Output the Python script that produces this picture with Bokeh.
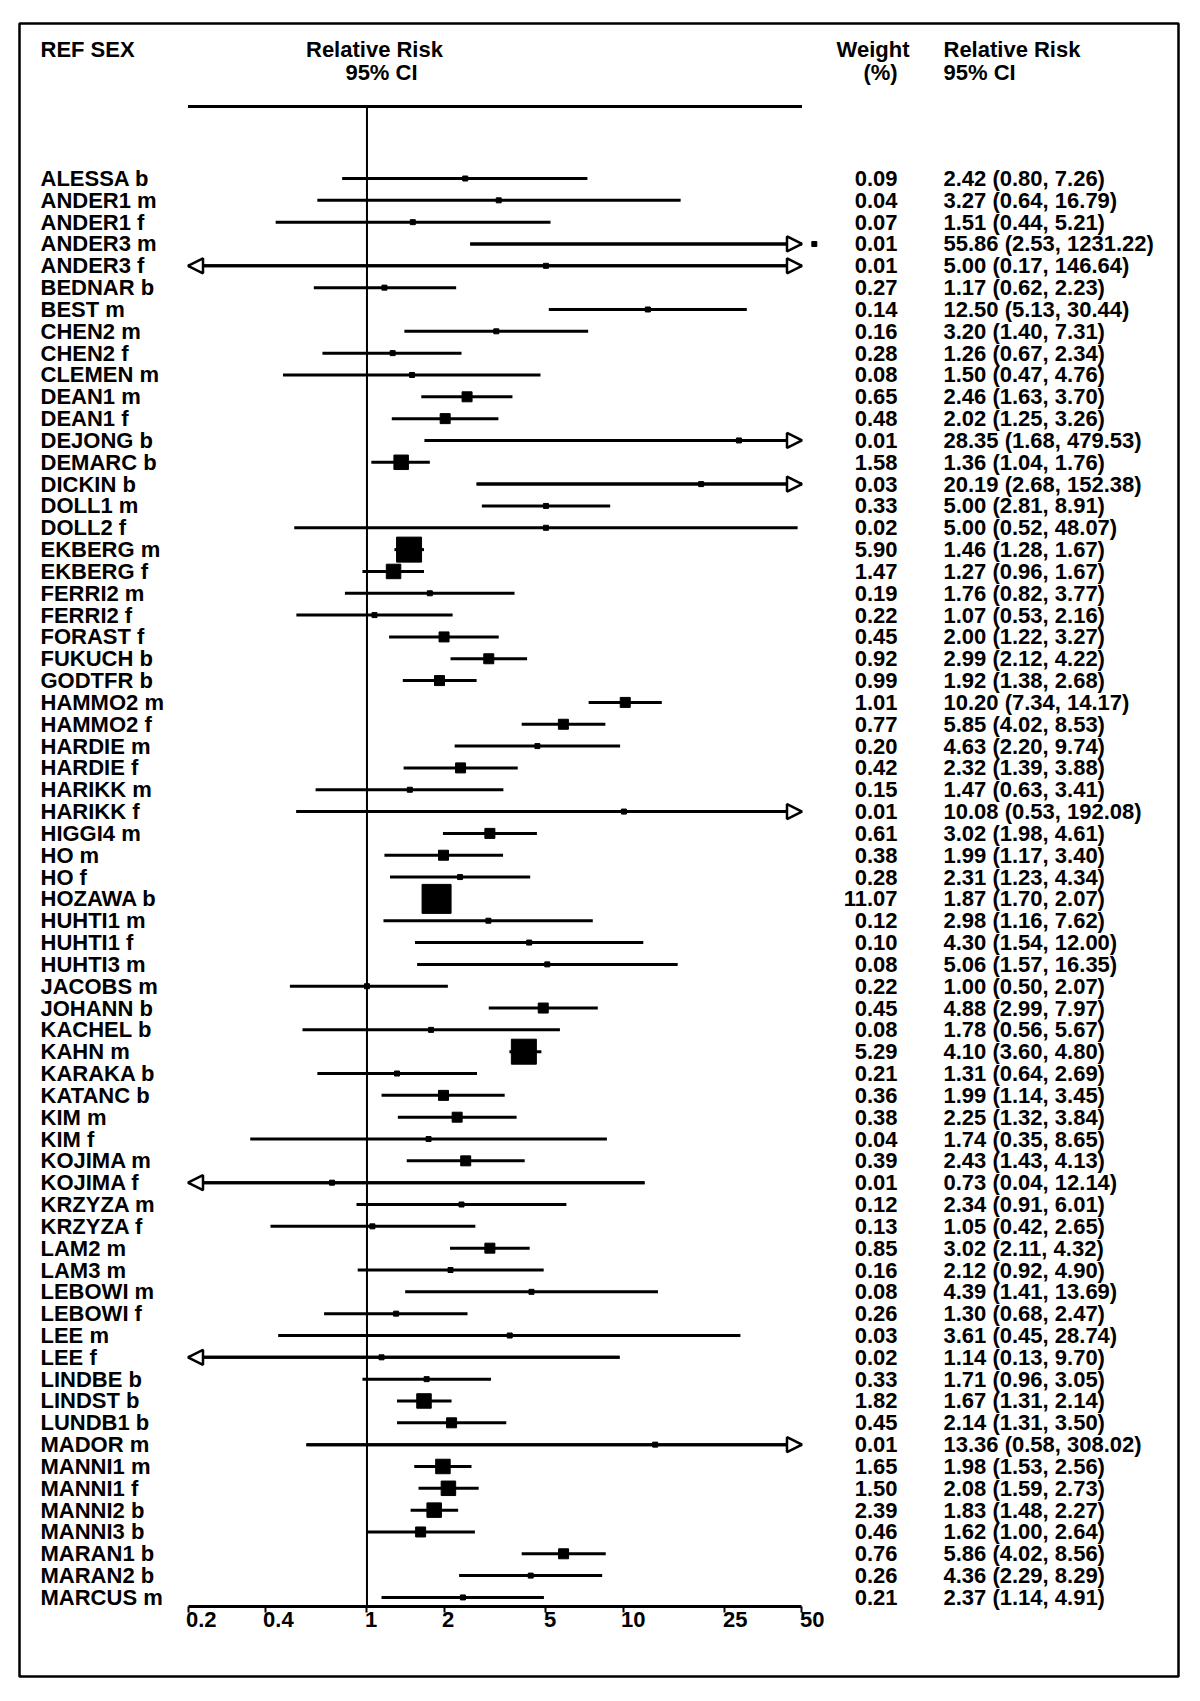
import math
from bokeh.plotting import figure
from bokeh.models import Range1d, FixedTicker, Arrow, NormalHead, ColumnDataSource
from bokeh.core.properties import value
from bokeh.embed import file_html
from bokeh.resources import INLINE

# ---------------- data ----------------
STUDIES = ["ALESSA b", "ANDER1 m", "ANDER1 f", "ANDER3 m", "ANDER3 f", "BEDNAR b", "BEST m",
           "CHEN2 m", "CHEN2 f", "CLEMEN m", "DEAN1 m", "DEAN1 f", "DEJONG b", "DEMARC b",
           "DICKIN b", "DOLL1 m", "DOLL2 f", "EKBERG m", "EKBERG f", "FERRI2 m", "FERRI2 f",
           "FORAST f", "FUKUCH b", "GODTFR b", "HAMMO2 m", "HAMMO2 f", "HARDIE m", "HARDIE f",
           "HARIKK m", "HARIKK f", "HIGGI4 m", "HO m", "HO f", "HOZAWA b", "HUHTI1 m",
           "HUHTI1 f", "HUHTI3 m", "JACOBS m", "JOHANN b", "KACHEL b", "KAHN m", "KARAKA b",
           "KATANC b", "KIM m", "KIM f", "KOJIMA m", "KOJIMA f", "KRZYZA m", "KRZYZA f",
           "LAM2 m", "LAM3 m", "LEBOWI m", "LEBOWI f", "LEE m", "LEE f", "LINDBE b",
           "LINDST b", "LUNDB1 b", "MADOR m", "MANNI1 m", "MANNI1 f", "MANNI2 b", "MANNI3 b",
           "MARAN1 b", "MARAN2 b", "MARCUS m"]
WEIGHTS = [0.09, 0.04, 0.07, 0.01, 0.01, 0.27, 0.14, 0.16, 0.28, 0.08, 0.65, 0.48, 0.01, 1.58,
           0.03, 0.33, 0.02, 5.90, 1.47, 0.19, 0.22, 0.45, 0.92, 0.99, 1.01, 0.77, 0.20, 0.42,
           0.15, 0.01, 0.61, 0.38, 0.28, 11.07, 0.12, 0.10, 0.08, 0.22, 0.45, 0.08, 5.29, 0.21,
           0.36, 0.38, 0.04, 0.39, 0.01, 0.12, 0.13, 0.85, 0.16, 0.08, 0.26, 0.03, 0.02, 0.33,
           1.82, 0.45, 0.01, 1.65, 1.50, 2.39, 0.46, 0.76, 0.26, 0.21]
RR = [2.42, 3.27, 1.51, 55.86, 5.00, 1.17, 12.50, 3.20, 1.26, 1.50, 2.46, 2.02, 28.35, 1.36,
      20.19, 5.00, 5.00, 1.46, 1.27, 1.76, 1.07, 2.00, 2.99, 1.92, 10.20, 5.85, 4.63, 2.32,
      1.47, 10.08, 3.02, 1.99, 2.31, 1.87, 2.98, 4.30, 5.06, 1.00, 4.88, 1.78, 4.10, 1.31,
      1.99, 2.25, 1.74, 2.43, 0.73, 2.34, 1.05, 3.02, 2.12, 4.39, 1.30, 3.61, 1.14, 1.71,
      1.67, 2.14, 13.36, 1.98, 2.08, 1.83, 1.62, 5.86, 4.36, 2.37]
LOWER = [0.80, 0.64, 0.44, 2.53, 0.17, 0.62, 5.13, 1.40, 0.67, 0.47, 1.63, 1.25, 1.68, 1.04,
         2.68, 2.81, 0.52, 1.28, 0.96, 0.82, 0.53, 1.22, 2.12, 1.38, 7.34, 4.02, 2.20, 1.39,
         0.63, 0.53, 1.98, 1.17, 1.23, 1.70, 1.16, 1.54, 1.57, 0.50, 2.99, 0.56, 3.60, 0.64,
         1.14, 1.32, 0.35, 1.43, 0.04, 0.91, 0.42, 2.11, 0.92, 1.41, 0.68, 0.45, 0.13, 0.96,
         1.31, 1.31, 0.58, 1.53, 1.59, 1.48, 1.00, 4.02, 2.29, 1.14]
UPPER = [7.26, 16.79, 5.21, 1231.22, 146.64, 2.23, 30.44, 7.31, 2.34, 4.76, 3.70, 3.26, 479.53,
         1.76, 152.38, 8.91, 48.07, 1.67, 1.67, 3.77, 2.16, 3.27, 4.22, 2.68, 14.17, 8.53, 9.74,
         3.88, 3.41, 192.08, 4.61, 3.40, 4.34, 2.07, 7.62, 12.00, 16.35, 2.07, 7.97, 5.67, 4.80,
         2.69, 3.45, 3.84, 8.65, 4.13, 12.14, 6.01, 2.65, 4.32, 4.90, 13.69, 2.47, 28.74, 9.70,
         3.05, 2.14, 3.50, 308.02, 2.56, 2.73, 2.27, 2.64, 8.56, 8.29, 4.91]
TICK_VALUES = [0.2, 0.4, 1, 2, 5, 10, 25, 50]
TICK_LABELS = ["0.2", "0.4", "1", "2", "5", "10", "25", "50"]
X_MIN, X_MAX = 0.2, 50.0

# ---------------- style / layout ----------------
FONT = "Liberation Sans"
FS = "22px"
W, H = 1192, 1686
ML, MR, MT, MB = 19, 14, 23, 10
FRAME_W = W - ML - MR
FRAME_H = H - MT - MB
AXIS_LEFT_PX = 168.5          # frame px of X_MIN
DECADE_PX = 256.05
ROW_PX = 21.83
FIRST_ROW_PX = 155.0          # frame px of first row

n = len(STUDIES)
rows = list(range(1, n + 1))

x_lo = 10 ** (math.log10(X_MIN) - AXIS_LEFT_PX / DECADE_PX)
x_hi = 10 ** (math.log10(X_MIN) + (FRAME_W - AXIS_LEFT_PX) / DECADE_PX)
y_top = 1 - FIRST_ROW_PX / ROW_PX
y_bottom = y_top + FRAME_H / ROW_PX

TOP_RULE_Y = 1 - 3.30
AXIS_Y = n + 0.41
TICK_LABEL_Y = AXIS_Y + 0.62
HEAD1_Y = 1 - 5.91
HEAD2_Y = 1 - 4.86

p = figure(width=W, height=H, x_axis_type="log",
           x_range=Range1d(x_lo, x_hi), y_range=Range1d(y_bottom, y_top),
           output_backend="svg", toolbar_location=None,
           min_border_left=ML, min_border_right=MR, min_border_top=MT, min_border_bottom=MB)
p.xgrid.visible = False
p.ygrid.visible = False
p.yaxis.visible = False
p.outline_line_color = "black"
p.outline_line_width = 2.5
p.background_fill_color = "white"
p.border_fill_color = "white"

# x axis inside the frame (line and ticks); labels are left-aligned text at the ticks
ax = p.xaxis[0]
ax.fixed_location = AXIS_Y
ax.bounds = (X_MIN, X_MAX)
ax.ticker = FixedTicker(ticks=TICK_VALUES, minor_ticks=[])
ax.major_label_overrides = {v: "" for v in TICK_VALUES}
ax.axis_line_width = 3
ax.axis_line_color = "black"
ax.major_tick_line_width = 2
ax.major_tick_line_color = "black"
ax.major_tick_out = 6
ax.major_tick_in = 0
ax.minor_tick_out = 0
ax.minor_tick_in = 0

txt = dict(text_font=value(FONT), text_font_style="bold", text_font_size=FS,
           text_color="black", text_baseline="middle")
p.text(x=TICK_VALUES, y=[TICK_LABEL_Y] * len(TICK_VALUES), text=TICK_LABELS,
       x_offset=-2, text_align="left", **txt)

# top rule and reference line at 1
p.segment(x0=[X_MIN], y0=[TOP_RULE_Y], x1=[X_MAX], y1=[TOP_RULE_Y], line_width=3, line_color="black")
p.segment(x0=[1], y0=[TOP_RULE_Y], x1=[1], y1=[AXIS_Y], line_width=2, line_color="black")

# CI lines
x0 = [max(l, X_MIN) for l in LOWER]
x1 = [min(u, X_MAX) for u in UPPER]
p.segment(x0=x0, y0=rows, x1=x1, y1=rows, line_width=3, line_color="black")

# arrows for truncated intervals
def head():
    return NormalHead(size=15, line_width=2.5, line_color="black", fill_color="white")

right = dict(xs=[], xe=[], y=[])
left = dict(xs=[], xe=[], y=[])
both = dict(xs=[], xe=[], y=[])
for r, l, u, a, b in zip(rows, LOWER, UPPER, x0, x1):
    if l < X_MIN and u > X_MAX:
        both["xs"].append(a); both["xe"].append(b); both["y"].append(r)
    elif u > X_MAX:
        right["xs"].append(a); right["xe"].append(b); right["y"].append(r)
    elif l < X_MIN:
        left["xs"].append(b); left["xe"].append(a); left["y"].append(r)
for d, st in ((right, False), (left, False), (both, True)):
    if d["y"]:
        src = ColumnDataSource(dict(xs=d["xs"], xe=d["xe"], y=d["y"]))
        p.add_layout(Arrow(source=src, x_start="xs", y_start="y", x_end="xe", y_end="y",
                           end=head(), start=head() if st else None,
                           line_width=3, line_color="black"))

# boxes sized by weight
BOX_STEPS = [0.35, 1.2, 4.0, 8.0]
BOX_PX = [5, 10, 14.5, 25, 29]
def box_size(w):
    for thr, s in zip(BOX_STEPS, BOX_PX):
        if w < thr:
            return s
    return BOX_PX[-1]
p.scatter(x=RR, y=rows, size=[box_size(w) for w in WEIGHTS], marker="square",
          fill_color="black", line_color="black")

p.text(x=[X_MIN] * n, y=rows, text=STUDIES, x_offset=-147.5, text_align="left", **txt)
p.text(x=[X_MAX] * n, y=rows, text=[f"{w:.2f}" for w in WEIGHTS], x_offset=95.5,
       text_align="right", **txt)
p.text(x=[X_MAX] * n, y=rows, text=[f"{r:.2f} ({l:.2f}, {u:.2f})" for r, l, u in zip(RR, LOWER, UPPER)],
       x_offset=141.5, text_align="left", **txt)

# headers
p.text(x=[X_MIN], y=[HEAD1_Y], text=["REF SEX"], x_offset=-147.5, text_align="left", **txt)
p.text(x=[1], y=[HEAD1_Y], text=["Relative Risk"], x_offset=7.5, text_align="center", **txt)
p.text(x=[1], y=[HEAD2_Y], text=["95% CI"], x_offset=14.5, text_align="center", **txt)
p.text(x=[X_MAX], y=[HEAD1_Y], text=["Weight"], x_offset=71, text_align="center", **txt)
p.text(x=[X_MAX], y=[HEAD2_Y], text=["(%)"], x_offset=78.5, text_align="center", **txt)
p.text(x=[X_MAX], y=[HEAD1_Y], text=["Relative Risk"], x_offset=141.5, text_align="left", **txt)
p.text(x=[X_MAX], y=[HEAD2_Y], text=["95% CI"], x_offset=141.5, text_align="left", **txt)

open("out.html", "w").write(file_html(p, INLINE))
